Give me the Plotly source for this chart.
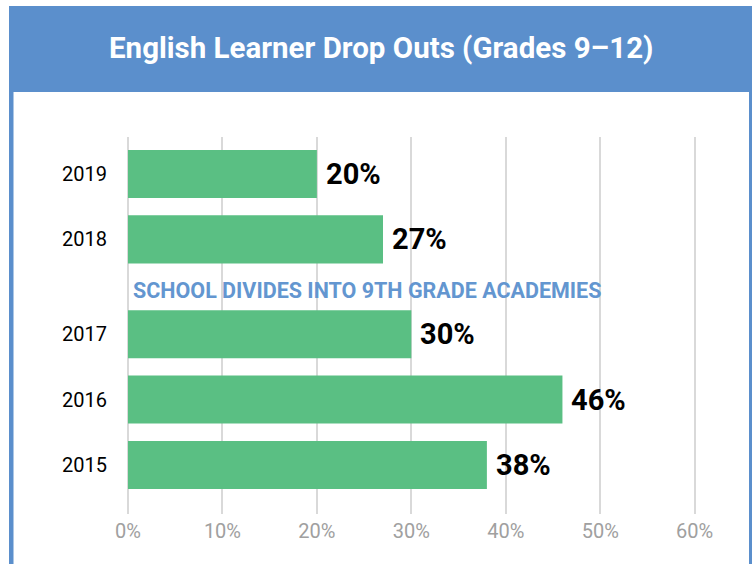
import plotly.graph_objects as go

# Data: English Learner drop-out rate (grades 9-12), listed top to bottom
years = ["2019", "2018", "2017", "2016", "2015"]
rates = [20, 27, 30, 46, 38]
x_ticks = [0, 10, 20, 30, 40, 50, 60]
x_tick_labels = ["0%", "10%", "20%", "30%", "40%", "50%", "60%"]
title_text = "English Learner Drop Outs (Grades 9\u201312)"
event_text = "SCHOOL DIVIDES INTO 9TH GRADE ACADEMIES"

W, H = 752, 564
ML, MR, MT, MB = 128, 29, 137, 50
PW, PH = W - ML - MR, H - MT - MB

HEADER_BLUE = "#5b8fcc"
BAR_GREEN = "#5abf83"
NOTE_BLUE = "#6396d0"
FONT = "Roboto, Arial, sans-serif"

# Vertical slots: evenly spaced, with an extra gap between 2018 and 2017
GAP_AFTER = "2017"
EXTRA_GAP = 0.45
positions = []
pos = 0.0
for yr in reversed(years):
    positions.append(pos)
    pos += 1.0 + (EXTRA_GAP if yr == GAP_AFTER else 0.0)
positions = positions[::-1]


def px_x(px):
    return (px - ML) / PW


def px_y(py):
    return (H - MB - py) / PH


fig = go.Figure()
fig.add_trace(go.Bar(
    x=rates,
    y=positions,
    orientation="h",
    width=0.735,
    marker=dict(color=BAR_GREEN, line=dict(width=0)),
    hoverinfo="skip",
))

annotations = []
for v, p in zip(rates, positions):
    annotations.append(dict(
        x=v, y=p, xref="x", yref="y", text=f"<b>{v}%</b>",
        showarrow=False, xanchor="left", yanchor="middle", xshift=7,
        font=dict(family=FONT, size=29, color="#000000"),
    ))

# Event note placed in the gap between 2018 and 2017
gap_mid = (positions[years.index("2018")] + positions[years.index("2017")]) / 2 - 0.055
annotations.append(dict(
    x=0, y=gap_mid, xref="x", yref="y", text=f"<b>{event_text}</b>",
    showarrow=False, xanchor="left", yanchor="middle", xshift=3,
    font=dict(family=FONT, size=21.5, color=NOTE_BLUE),
))

# Header title
annotations.append(dict(
    x=px_x(381), y=px_y(48), xref="paper", yref="paper",
    text=f"<b>{title_text}</b>", showarrow=False,
    xanchor="center", yanchor="middle",
    font=dict(family=FONT, size=29.5, color="#ffffff"),
))

shapes = [
    # header band
    dict(type="rect", xref="paper", yref="paper", layer="below",
         x0=px_x(9), x1=px_x(760), y0=px_y(92), y1=px_y(6),
         fillcolor=HEADER_BLUE, line=dict(width=0)),
    # left frame edge
    dict(type="rect", xref="paper", yref="paper", layer="below",
         x0=px_x(9), x1=px_x(13.5), y0=px_y(570), y1=px_y(92),
         fillcolor=HEADER_BLUE, line=dict(width=0)),
    # right frame edge
    dict(type="rect", xref="paper", yref="paper", layer="below",
         x0=px_x(749), x1=px_x(760), y0=px_y(570), y1=px_y(92),
         fillcolor=HEADER_BLUE, line=dict(width=0)),
]

fig.update_layout(
    width=W, height=H,
    margin=dict(l=ML, r=MR, t=MT, b=MB, pad=0),
    paper_bgcolor="#ffffff",
    plot_bgcolor="#ffffff",
    showlegend=False,
    annotations=annotations,
    shapes=shapes,
    xaxis=dict(
        range=[0, 63],
        tickvals=x_ticks, ticktext=x_tick_labels,
        showgrid=True, gridcolor="#d9d9d9", gridwidth=2,
        zeroline=True, zerolinecolor="#d9d9d9", zerolinewidth=2,
        showline=False, ticks="",
        tickfont=dict(family=FONT, size=20, color="#a0a0a0"),
        ticklabelstandoff=3,
        fixedrange=True,
    ),
    yaxis=dict(
        range=[-0.75, positions[0] + 0.565],
        tickvals=positions, ticktext=years,
        showgrid=False, zeroline=False, showline=False, ticks="",
        tickfont=dict(family=FONT, size=20, color="#000000"),
        ticklabelstandoff=20,
        fixedrange=True,
    ),
)

fig.write_html("out.html")
